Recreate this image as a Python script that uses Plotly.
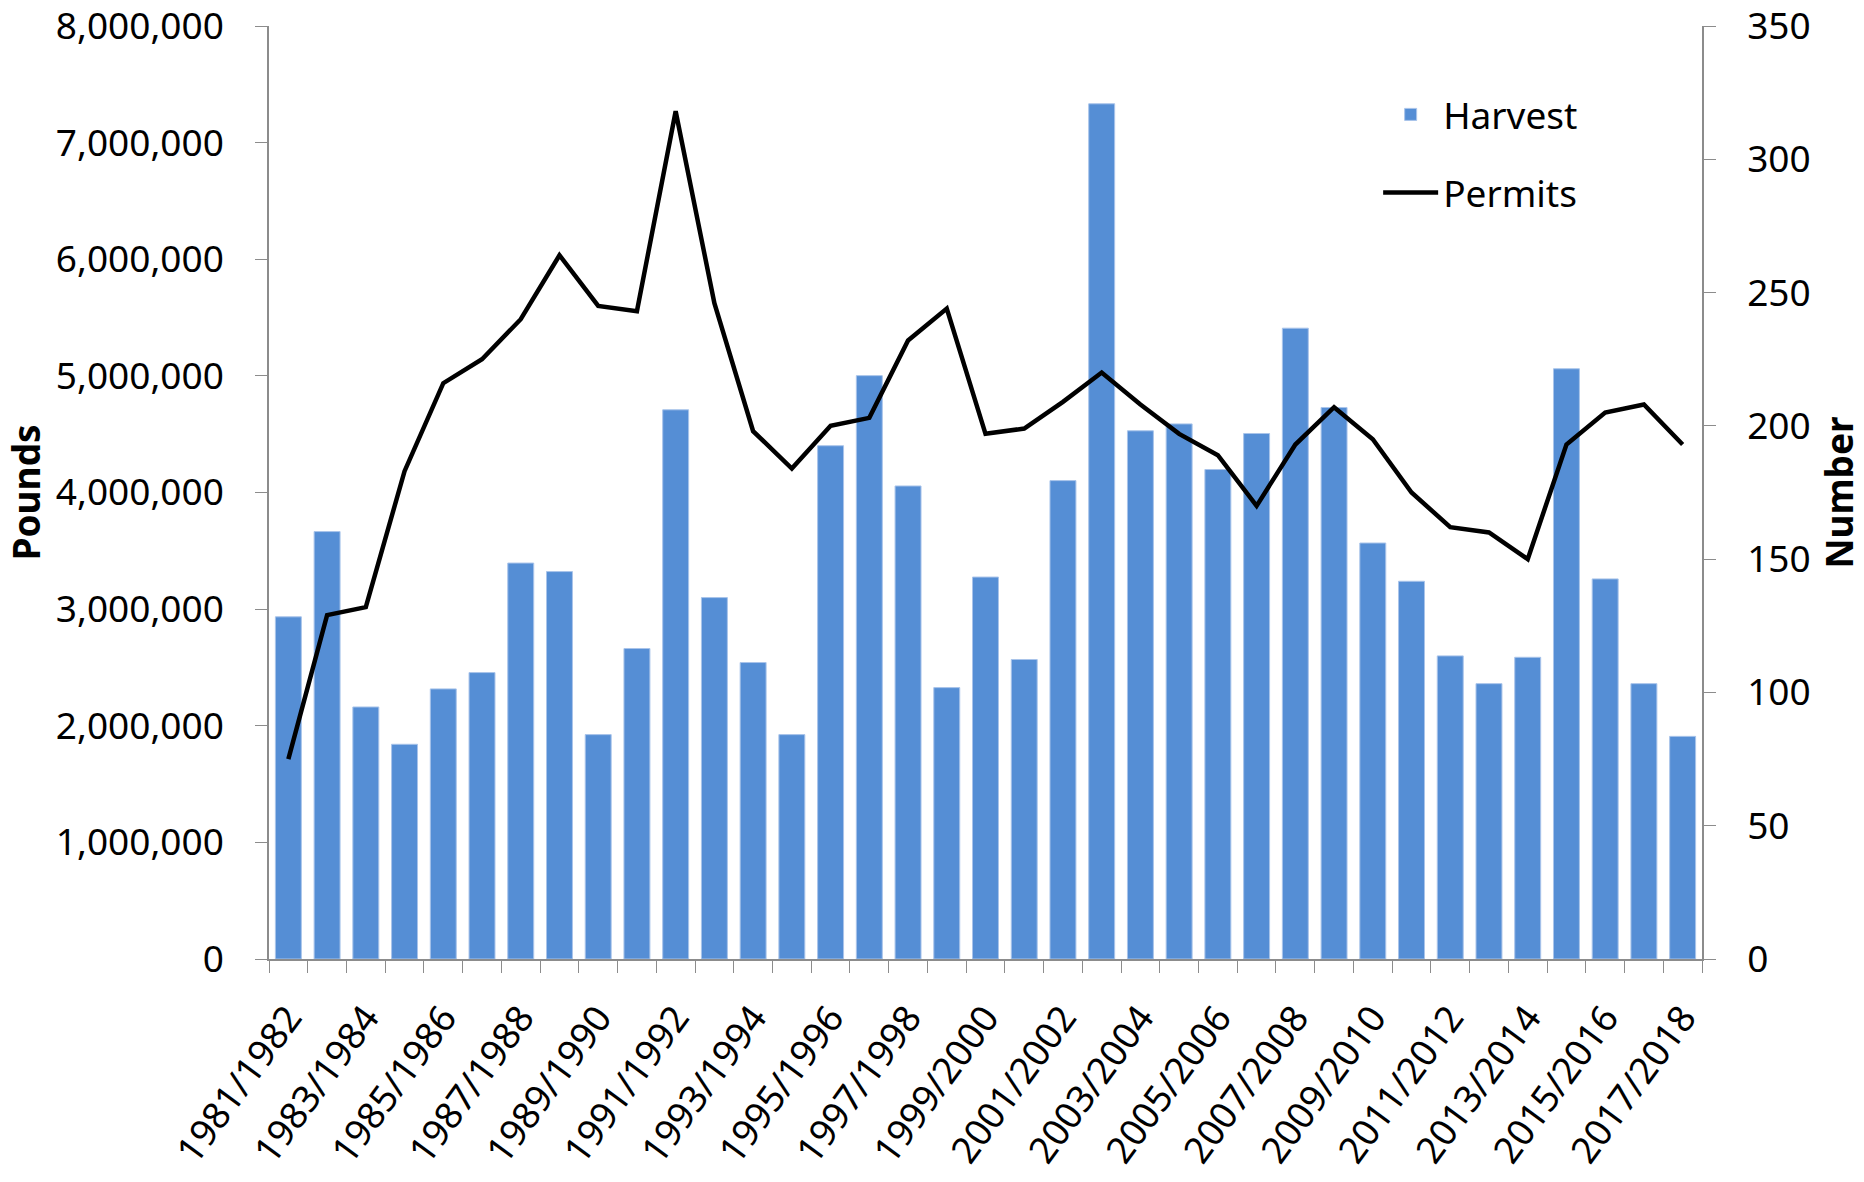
import plotly.graph_objects as go

seasons = [
    "1981/1982", "1982/1983", "1983/1984", "1984/1985", "1985/1986", "1986/1987",
    "1987/1988", "1988/1989", "1989/1990", "1990/1991", "1991/1992", "1992/1993",
    "1993/1994", "1994/1995", "1995/1996", "1996/1997", "1997/1998", "1998/1999",
    "1999/2000", "2000/2001", "2001/2002", "2002/2003", "2003/2004", "2004/2005",
    "2005/2006", "2006/2007", "2007/2008", "2008/2009", "2009/2010", "2010/2011",
    "2011/2012", "2012/2013", "2013/2014", "2014/2015", "2015/2016", "2016/2017",
    "2017/2018",
]

harvest = [
    2934000, 3665000, 2161000, 1841000, 2316000, 2456000,
    3395000, 3322000, 1924000, 2662000, 4709000, 3099000,
    2542000, 1924000, 4401000, 5002000, 4056000, 2327000,
    3275000, 2568000, 4102000, 7333000, 4529000, 4588000,
    4197000, 4506000, 5409000, 4729000, 3567000, 3239000,
    2599000, 2361000, 2587000, 5061000, 3259000, 2361000,
    1909000,
]

permits = [
    75, 129, 132, 183, 216, 225,
    240, 264, 245, 243, 318, 246,
    198, 184, 200, 203, 232, 244,
    197, 199, 209, 220, 208, 197,
    189, 170, 193, 207, 195, 175,
    162, 160, 150, 193, 205, 208,
    193,
]

pounds_ticks = [0, 1000000, 2000000, 3000000, 4000000, 5000000, 6000000, 7000000, 8000000]
number_ticks = [0, 50, 100, 150, 200, 250, 300, 350]

# every other season is labelled on the axis
tick_text = [s if i % 2 == 0 else "" for i, s in enumerate(seasons)]

FONT = "Noto Sans"
AXIS_GRAY = "#8c8c8c"

fig = go.Figure()
fig.add_trace(go.Bar(
    x=seasons, y=harvest, name="Harvest",
    marker=dict(color="#558ED5", line=dict(color="#a9c4ea", width=1)),
    legendgroup="h",
))
fig.add_trace(go.Scatter(
    x=seasons, y=permits, name="Permits", mode="lines",
    line=dict(color="black", width=4.5),
    yaxis="y2", legendgroup="p",
))

fig.update_layout(
    width=1864, height=1182,
    margin=dict(l=269, r=162, t=26, b=223, autoexpand=False),
    paper_bgcolor="white", plot_bgcolor="white",
    font=dict(family=FONT, size=37, color="black"),
    bargap=0.33,
    showlegend=True,
    legend=dict(
        x=0.774, y=0.938, xanchor="left", yanchor="top",
        bgcolor="rgba(0,0,0,0)", font=dict(size=37),
        tracegroupgap=27, traceorder="grouped", itemwidth=55,
    ),
    xaxis=dict(
        type="category", tickmode="array", tickvals=seasons, ticktext=tick_text,
        tickangle=-54, tickson="boundaries", ticks="outside", ticklen=12,
        tickcolor=AXIS_GRAY, showline=True, linecolor=AXIS_GRAY, linewidth=2,
        showgrid=False, tickfont=dict(size=37), range=[-0.5, 36.5],
        ticklabelstandoff=20, automargin=False,
    ),
    yaxis=dict(
        range=[0, 8000000], tickmode="array", tickvals=pounds_ticks, tickformat=",",
        ticks="outside", ticklen=12, tickcolor=AXIS_GRAY,
        showline=True, linecolor=AXIS_GRAY, linewidth=1.5,
        showgrid=False, zeroline=False, ticklabelstandoff=24,
        ticklabeloverflow="allow", automargin=False,
        title=dict(text="Pounds", font=dict(size=37, weight="bold"), standoff=18),
    ),
    yaxis2=dict(
        range=[0, 350], tickmode="array", tickvals=number_ticks, overlaying="y", side="right",
        ticks="outside", ticklen=12, tickcolor=AXIS_GRAY,
        showline=True, linecolor=AXIS_GRAY, linewidth=1.5,
        showgrid=False, zeroline=False, ticklabelstandoff=24,
        ticklabeloverflow="allow", automargin=False,
        title=dict(text="Number", font=dict(size=37, weight="bold"), standoff=24),
    ),
)

fig.write_html(
    "out.html",
    config={"displayModeBar": False},
    post_script="document.body.style.margin='0';",
)
